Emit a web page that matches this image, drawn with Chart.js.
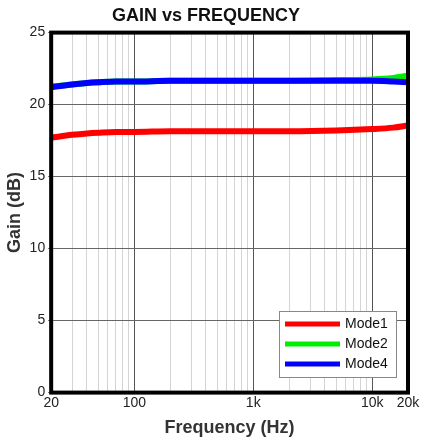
<!DOCTYPE html>
<html>
<head>
<meta charset="utf-8">
<script src="https://cdn.jsdelivr.net/npm/chart.js@4/dist/chart.umd.min.js"></script>
<style>
  html, body { margin: 0; padding: 0; background: #fff; }
  #wrap { width: 422px; height: 443px; }
</style>
</head>
<body>
<div id="wrap"><canvas id="Chart1"></canvas></div>
<script>
const freqs = [20, 30, 40, 50, 70, 100, 200, 500, 1000, 2000, 5000, 10000, 15000, 20000];
const mode1 = [17.7, 17.9, 18.0, 18.05, 18.1, 18.1, 18.15, 18.15, 18.15, 18.15, 18.2, 18.3, 18.4, 18.55];
const mode2 = [21.25, 21.4, 21.5, 21.55, 21.6, 21.6, 21.65, 21.65, 21.65, 21.65, 21.7, 21.75, 21.85, 22.0];
const mode4 = [21.2, 21.4, 21.5, 21.55, 21.6, 21.6, 21.65, 21.65, 21.65, 21.65, 21.65, 21.65, 21.6, 21.55];
const xTickValues = [20, 30, 40, 50, 60, 70, 80, 90, 100, 200, 300, 400, 500, 600, 700, 800, 900,
  1000, 2000, 3000, 4000, 5000, 6000, 7000, 8000, 9000, 10000, 20000];
const xLabels = {20: "20", 100: "100", 1000: "1k", 10000: "10k", 20000: "20k"};
const majorX = [100, 1000, 10000];

const pts = (ys) => freqs.map((f, i) => ({x: f, y: ys[i]}));

// frame + legend box drawn over the plot
const framePlugin = {
  id: "frame",
  afterDatasetsDraw(chart) {
    const {ctx, chartArea: a} = chart;
    ctx.save();
    // legend
    const lx = 279, ly = 311, lw = 117, lh = 66;
    ctx.fillStyle = "#fff";
    ctx.fillRect(lx, ly, lw, lh);
    ctx.strokeStyle = "#888";
    ctx.lineWidth = 1;
    ctx.strokeRect(lx + 0.5, ly + 0.5, lw, lh);
    const items = chart.data.datasets.slice();
    ctx.font = "14px 'Liberation Sans', Arial, sans-serif";
    ctx.textBaseline = "middle";
    items.forEach((ds, i) => {
      const y = ly + 13 + i * 20;
      ctx.fillStyle = ds.borderColor;
      ctx.fillRect(lx + 6, y - 2.5, 55, 5);
      ctx.fillStyle = "#111";
      ctx.fillText(ds.label, lx + 66, y);
    });
    // thick border
    ctx.strokeStyle = "#000";
    ctx.lineWidth = 4;
    ctx.strokeRect(a.left, a.top, a.right - a.left, a.bottom - a.top);
    ctx.restore();
  }
};

new Chart(document.getElementById("Chart1"), {
  type: "line",
  data: {
    datasets: [
      {label: "Mode1", data: pts(mode1), borderColor: "#ff0000", order: 2},
      {label: "Mode2", data: pts(mode2), borderColor: "#00ee00", order: 1},
      {label: "Mode4", data: pts(mode4), borderColor: "#0000ff", order: 0}
    ]
  },
  options: {
    responsive: true,
    maintainAspectRatio: false,
    animation: false,
    layout: {padding: {left: 4, right: 14, top: 5, bottom: 4}},
    elements: {
      line: {borderWidth: 6, cubicInterpolationMode: "monotone", borderCapStyle: "butt"},
      point: {radius: 0}
    },
    plugins: {
      legend: {display: false},
      tooltip: {enabled: false},
      title: {
        display: true,
        text: "GAIN vs FREQUENCY",
        color: "#111",
        font: {size: 18, weight: "bold", family: "'Liberation Sans', Arial, sans-serif"},
        padding: {top: 0, bottom: 6}
      }
    },
    scales: {
      x: {
        type: "logarithmic",
        min: 20,
        max: 20000,
        afterBuildTicks: (s) => { s.ticks = xTickValues.map(v => ({value: v})); },
        ticks: {
          autoSkip: false,
          maxRotation: 0,
          color: "#222",
          padding: 2,
          font: {size: 14, family: "'Liberation Sans', Arial, sans-serif"},
          callback: (v) => xLabels[v] || ""
        },
        grid: {
          color: (c) => majorX.includes(c.tick && c.tick.value) ? "#555" : "#d4d4d4",
          lineWidth: 1,
          drawTicks: false
        },
        border: {display: false},
        title: {
          display: true,
          text: "Frequency (Hz)",
          color: "#333",
          font: {size: 18, weight: "bold", family: "'Liberation Sans', Arial, sans-serif"},
          padding: {top: 4, bottom: 0}
        }
      },
      y: {
        min: 0,
        max: 25,
        ticks: {
          stepSize: 5,
          color: "#222",
          padding: 3,
          font: {size: 14, family: "'Liberation Sans', Arial, sans-serif"}
        },
        grid: {color: "#666", lineWidth: 1, drawTicks: true, tickLength: 3},
        border: {display: false},
        title: {
          display: true,
          text: "Gain (dB)",
          color: "#333",
          font: {size: 18, weight: "bold", family: "'Liberation Sans', Arial, sans-serif"},
          padding: {top: 0, bottom: 1}
        }
      }
    }
  },
  plugins: [framePlugin]
});
</script>
</body>
</html>
